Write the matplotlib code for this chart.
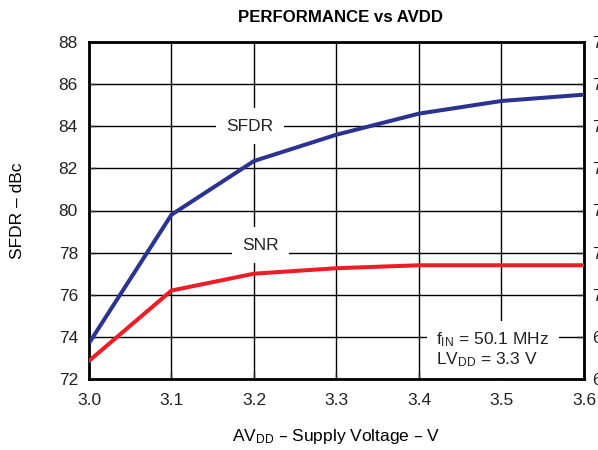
import matplotlib
matplotlib.use("Agg")
import matplotlib.pyplot as plt

plt.rcParams['font.family'] = ['Liberation Sans', 'DejaVu Sans']

avdd = [3.0, 3.1, 3.2, 3.3, 3.4, 3.5, 3.6]
sfdr = [73.7, 79.8, 82.35, 83.6, 84.6, 85.2, 85.5]
snr_dbfs = [68.43, 70.1, 70.5, 70.63, 70.7, 70.7, 70.7]

xticks = [3.0, 3.1, 3.2, 3.3, 3.4, 3.5, 3.6]
left_ticks = [72, 74, 76, 78, 80, 82, 84, 86, 88]
right_ticks = [68, 69, 70, 71, 72, 73, 74, 75, 76]

blue = '#2B3390'
red = '#EE1C25'
fs = 12.5

fig = plt.figure(figsize=(5.98, 4.5), dpi=100)
ax = fig.add_axes([89/598, 1 - 379/450, (584-89)/598, (379-42)/450])
ax.set_xlim(3.0, 3.6)
ax.set_ylim(72, 88)
ax.set_xticks(xticks)
ax.set_xticklabels([f"{v:.1f}" for v in xticks])
ax.set_yticks(left_ticks)
ax.grid(True, color='black', linewidth=1.0)
ax.set_axisbelow(True)
for s in ax.spines.values():
    s.set_linewidth(2.0)
ax.tick_params(direction='in', length=5, width=1, labelsize=fs, colors='#222222')
ax.tick_params(axis='y', pad=8)
ax.tick_params(axis='x', pad=10)

ax2 = ax.twinx()
ax2.set_ylim(68, 76)
ax2.set_yticks(right_ticks)
ax2.tick_params(direction='in', length=5, width=1, labelsize=fs, pad=6, colors='#222222')
ax2.set_ylabel('SNR – dBFS', fontsize=fs)

ax.plot(avdd, sfdr, color=blue, linewidth=2.9, solid_joinstyle='miter', zorder=3)
ax2.plot(avdd, snr_dbfs, color=red, linewidth=2.9, solid_joinstyle='miter', zorder=3)

ax.text(3.195, 84.0, 'SFDR', fontsize=fs, ha='center', va='center',
        bbox=dict(boxstyle='square,pad=0.6', fc='white', ec='none'), zorder=4, color='#222222')
ax.text(3.208, 78.35, 'SNR', fontsize=fs, ha='center', va='center',
        bbox=dict(boxstyle='square,pad=0.6', fc='white', ec='none'), zorder=4, color='#222222')

ax.text(3.421, 73.4, '$\\mathregular{f_{IN}}$ = 50.1 MHz\n$\\mathregular{LV_{DD}}$ = 3.3 V', fontsize=fs,
        ha='left', va='center', linespacing=1.1, color='#222222',
        bbox=dict(boxstyle='square,pad=0.55', fc='white', ec='none'), zorder=4)

fig.text(341/598, 1 - 17/450, 'PERFORMANCE vs AVDD', fontsize=12.1, fontweight='bold',
         ha='center', va='center', color='black')
ax.set_ylabel('SFDR – dBc', fontsize=fs, labelpad=24)
ax.set_xlabel('$\\mathregular{AV_{DD}}$ – Supply Voltage – V', fontsize=fs, labelpad=14)

fig.savefig('out.png', dpi=100)
